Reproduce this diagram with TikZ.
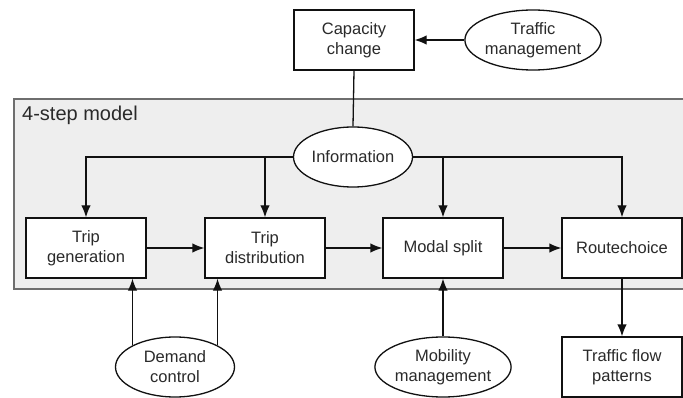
\documentclass[tikz,border=0pt]{standalone}
\usepackage{fontspec}
\setmainfont{Liberation Sans}
\usetikzlibrary{arrows.meta,shapes.geometric}
\definecolor{txt}{HTML}{2A2A2A}
\definecolor{panel}{HTML}{EEEEEE}
\definecolor{panelline}{HTML}{6E6E6E}
\definecolor{ink}{HTML}{111111}
\tikzset{
  box/.style={draw=ink, fill=white, line width=1.3pt, minimum width=120pt, minimum height=60pt,
    inner sep=0pt, align=center, text=txt, font=\fontsize{16.5}{20}\selectfont},
  oval/.style={ellipse, draw=ink, fill=white, line width=1.3pt, minimum width=119pt, minimum height=60pt,
    inner sep=0pt, align=center, text=txt, font=\fontsize{16.5}{20}\selectfont},
  conn/.style={line width=1.3pt, draw=ink},
  arr/.style={conn, -{Latex[length=12pt,width=9.5pt]}}
}
\begin{document}
\begin{tikzpicture}[x=1pt,y=-1pt]
\useasboundingbox (0,0) rectangle (683,398);
% panel
\draw[fill=panel, draw=panelline, line width=1.6pt] (14,99) rectangle (700,289);
\node[anchor=base west, text=txt, font=\fontsize{20}{23}\selectfont, inner sep=0pt] (title) at (22,121) {4-step model};
% nodes
\node[box]  (cap)  at (354,40)  {Capacity\\change};
\node[oval] (tm)   at (533,40)  {Traffic\\management};
\node[oval] (info) at (353,157) {Information};
\node[box]  (tg)   at (86,248)  {Trip\\generation};
\node[box]  (td)   at (265,248) {Trip\\distribution};
\node[box]  (ms)   at (443,248) {Modal split};
\node[box]  (rc)   at (622,248) {Routechoice};
\node[oval] (dc)   at (175,367) {Demand\\control};
\node[oval] (mm)   at (443,367) {Mobility\\management};
\node[box]  (tfp)  at (622,367) {Traffic flow\\patterns};
% connectors
\draw[arr] (tm.west) -- (cap.east);
\draw[conn] (cap.south) -- (info.north);
\draw[arr] (info.west) -| (tg.north);
\draw[arr] (info.west) -| (td.north);
\draw[arr] (info.east) -| (ms.north);
\draw[arr] (info.east) -| (rc.north);
\draw[arr] (tg.east) -- (td.west);
\draw[arr] (td.east) -- (ms.west);
\draw[arr] (ms.east) -- (rc.west);
\draw[arr] (dc.north west) -- (dc.north west |- tg.south);
\draw[arr] (dc.north east) -- (dc.north east |- td.south);
\draw[arr] (mm.north) -- (ms.south);
\draw[arr] (rc.south) -- (tfp.north);
\end{tikzpicture}
\end{document}
